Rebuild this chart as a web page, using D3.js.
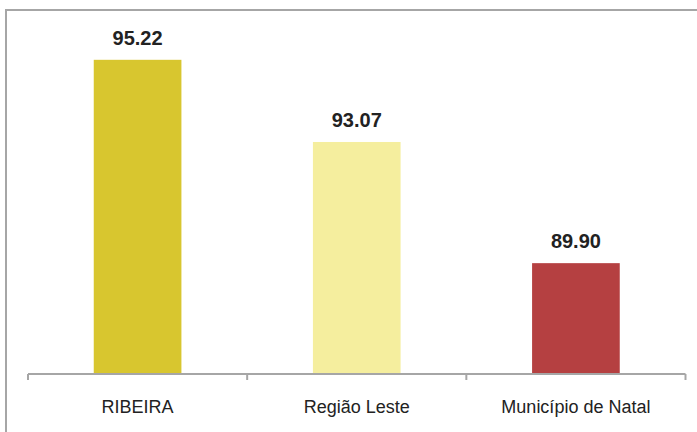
<!DOCTYPE html>
<html>
<head>
<meta charset="utf-8">
<script src="https://cdn.jsdelivr.net/npm/d3@7"></script>
<style>
  body { margin: 0; background: #fff; }
  svg { display: block; }
</style>
</head>
<body>
<svg id="chart" width="697" height="432"></svg>
<script>
// values
var categories = ["RIBEIRA", "Região Leste", "Município de Natal"];
var values = [95.22, 93.07, 89.90];
var colors = ["#d8c62f", "#f5ee9e", "#b54041"];

var svg = d3.select("#chart");

// outer frame, only top and left visible in the picture
svg.append("rect")
    .attr("x", 6)
    .attr("y", 10)
    .attr("width", 720)
    .attr("height", 460)
    .attr("fill", "none")
    .attr("stroke", "#a6a6a6")
    .attr("stroke-width", 2);

// plot area ("top" is a reserved window property, so use other names)
var plotLeft = 28, plotRight = 685.5, plotBottom = 374, plotTop = 30;

var x = d3.scaleBand()
    .domain(categories)
    .range([plotLeft, plotRight])
    .paddingInner(0.6)
    .paddingOuter(0.3);

var y = d3.scaleLinear()
    .domain([87, 96])
    .range([plotBottom, plotTop]);

// bars
svg.selectAll("rect.bar")
    .data(values)
    .enter()
    .append("rect")
    .attr("class", "bar")
    .attr("x", (d, i) => x(categories[i]))
    .attr("y", d => y(d))
    .attr("width", x.bandwidth())
    .attr("height", d => y(87) - y(d))
    .style("fill", (d, i) => colors[i]);

// value labels
svg.selectAll("text.val")
    .data(values)
    .enter()
    .append("text")
    .attr("class", "val")
    .attr("x", (d, i) => x(categories[i]) + x.bandwidth() / 2)
    .attr("y", d => y(d) - 15)
    .attr("text-anchor", "middle")
    .style("font-family", "'Liberation Sans', Arial, sans-serif")
    .style("font-weight", "bold")
    .style("font-size", "20px")
    .style("fill", "#222")
    .text(d => d.toFixed(2));

// category axis with tick marks at band boundaries
var step = (plotRight - plotLeft) / categories.length;
var tickPos = d3.range(categories.length + 1).map(i => plotLeft + i * step);

var axis = svg.append("g").attr("class", "axis");

axis.append("line")
    .attr("x1", plotLeft)
    .attr("x2", plotRight)
    .attr("y1", plotBottom)
    .attr("y2", plotBottom)
    .attr("stroke", "#a6a6a6")
    .attr("stroke-width", 2);

axis.selectAll("line.tick")
    .data(tickPos)
    .enter()
    .append("line")
    .attr("class", "tick")
    .attr("x1", d => d)
    .attr("x2", d => d)
    .attr("y1", plotBottom)
    .attr("y2", plotBottom + 6)
    .attr("stroke", "#a6a6a6")
    .attr("stroke-width", 2);

axis.selectAll("text")
    .data(categories)
    .enter()
    .append("text")
    .attr("x", d => x(d) + x.bandwidth() / 2)
    .attr("y", 413)
    .attr("text-anchor", "middle")
    .style("font-family", "'Liberation Sans', Arial, sans-serif")
    .style("font-size", "18px")
    .style("fill", "#222")
    .text(d => d);
</script>
</body>
</html>
